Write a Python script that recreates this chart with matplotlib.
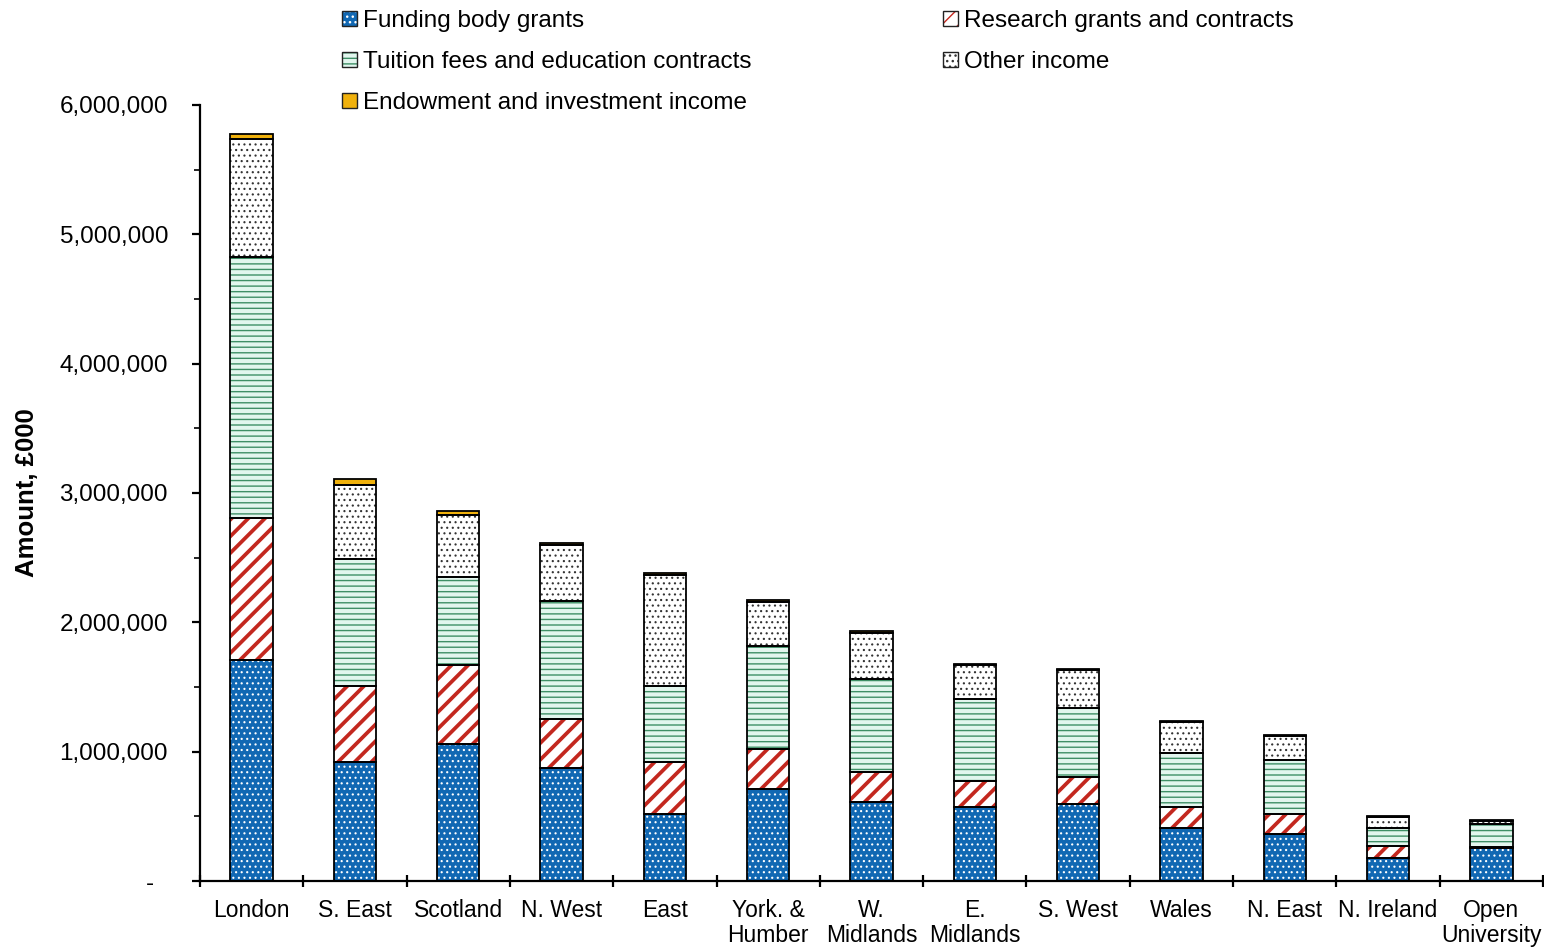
import numpy as np
import matplotlib
matplotlib.use("Agg")
import matplotlib.pyplot as plt
from matplotlib.patches import Patch
from matplotlib.ticker import FixedLocator, FuncFormatter, MultipleLocator

# income by region, £000
regions = ["London", "S. East", "Scotland", "N. West", "East", "York. &\nHumber",
           "W.\nMidlands", "E.\nMidlands", "S. West", "Wales", "N. East",
           "N. Ireland", "Open\nUniversity"]
funding = [1709000, 917000, 1057000, 876000, 515000, 713000, 613000, 575000,
           595000, 412000, 361000, 180000, 253000]
research = [1098000, 593000, 613000, 374000, 403000, 309000, 232000, 200000,
            211000, 163000, 155000, 91000, 8000]
tuition = [2018000, 980000, 683000, 915000, 590000, 797000, 715000, 632000,
           529000, 412000, 420000, 136000, 180000]
other = [910000, 572000, 475000, 431000, 858000, 341000, 355000, 263000,
         296000, 245000, 185000, 90000, 23000]
endowment = [41000, 46000, 30000, 17000, 18000, 13000, 18000, 8000,
             8000, 8000, 8000, 7000, 8000]

series = [
    # label, values, face, hatch, hatch colour, hatch lw
    ("Funding body grants", funding, "#1168b3", "...", "white", 0.8),
    ("Research grants and contracts", research, "white", "//", "#c3281f", 2.7),
    ("Tuition fees and education contracts", tuition, "#e2f6ee", "---", "#3f8f66", 1.0),
    ("Other income", other, "white", "...", "#333333", 0.8),
    ("Endowment and investment income", endowment, "#f0b10c", "", "black", 1.0),
]

plt.rcParams["font.family"] = ["Liberation Sans", "DejaVu Sans"]

fig = plt.figure(figsize=(15.44, 9.49), dpi=100)
ax = fig.add_axes([200 / 1544, 68 / 949, 1343 / 1544, 776 / 949])

x = np.arange(len(regions))
width = 0.41
bottom = np.zeros(len(regions))
handles = {}
for label, vals, face, hatch, hcol, hlw in series:
    vals = np.array(vals, dtype=float)
    with plt.rc_context({"hatch.linewidth": hlw}):
        bars = ax.bar(x, vals, width, bottom=bottom, color=face, edgecolor=hcol,
                      hatch=hatch, linewidth=0, zorder=2)
        for b in bars:
            if hasattr(b, "set_hatch_linewidth"):
                b.set_hatch_linewidth(hlw)
        hp = Patch(facecolor=face, edgecolor=hcol, hatch=hatch, linewidth=0)
        if hasattr(hp, "set_hatch_linewidth"):
            hp.set_hatch_linewidth(hlw)
    ax.bar(x, vals, width, bottom=bottom, fill=False, edgecolor="black",
           linewidth=1.3, zorder=3)
    outline = Patch(fill=False, edgecolor="#222222", linewidth=1.0)
    handles[label] = (hp, outline)
    bottom += vals

ax.set_xlim(-0.5, len(regions) - 0.5)
ax.set_ylim(0, 6000000)

for s in ["top", "right"]:
    ax.spines[s].set_visible(False)
for s in ["left", "bottom"]:
    ax.spines[s].set_linewidth(1.6)

# x: ticks at the boundaries, labels at the centres
ax.xaxis.set_major_locator(FixedLocator(np.arange(len(regions) + 1) - 0.5))
ax.xaxis.set_minor_locator(FixedLocator(x))
ax.set_xticklabels([], minor=False)
ax.set_xticklabels(regions, minor=True, fontsize=16.5, linespacing=1.12)
ax.tick_params(axis="x", which="major", direction="inout", length=9, width=1.6)
ax.tick_params(axis="x", which="minor", length=0, pad=13)

ax.yaxis.set_major_locator(MultipleLocator(1000000))
ax.yaxis.set_minor_locator(MultipleLocator(500000))
ax.yaxis.set_major_formatter(FuncFormatter(lambda v, p: "-  " if v == 0 else f"{int(v):,}"))
ax.tick_params(axis="y", which="major", direction="out", length=6, width=1.6,
               labelsize=17.5, pad=17)
ax.tick_params(axis="y", which="minor", direction="out", length=4, width=1.2)

fig.text(27 / 1544, 1 - 493 / 949, "Amount, £000", rotation=90, ha="center",
         va="center", fontsize=18.5, fontweight="bold")

col1 = ["Funding body grants", "Tuition fees and education contracts",
        "Endowment and investment income"]
col2 = ["Research grants and contracts", "Other income"]
leg_kw = dict(loc="upper left", frameon=False, fontsize=17.5, borderpad=0,
              handlelength=0.6, handleheight=0.6, handletextpad=0.25,
              labelspacing=0.78, borderaxespad=0)
leg1 = fig.legend([handles[k] for k in col1], col1,
                  bbox_to_anchor=(342 / 1544, 1 - 10 / 949), **leg_kw)
leg2 = fig.legend([handles[k] for k in col2], col2,
                  bbox_to_anchor=(943 / 1544, 1 - 10 / 949), **leg_kw)

fig.savefig("out.png", dpi=100)
